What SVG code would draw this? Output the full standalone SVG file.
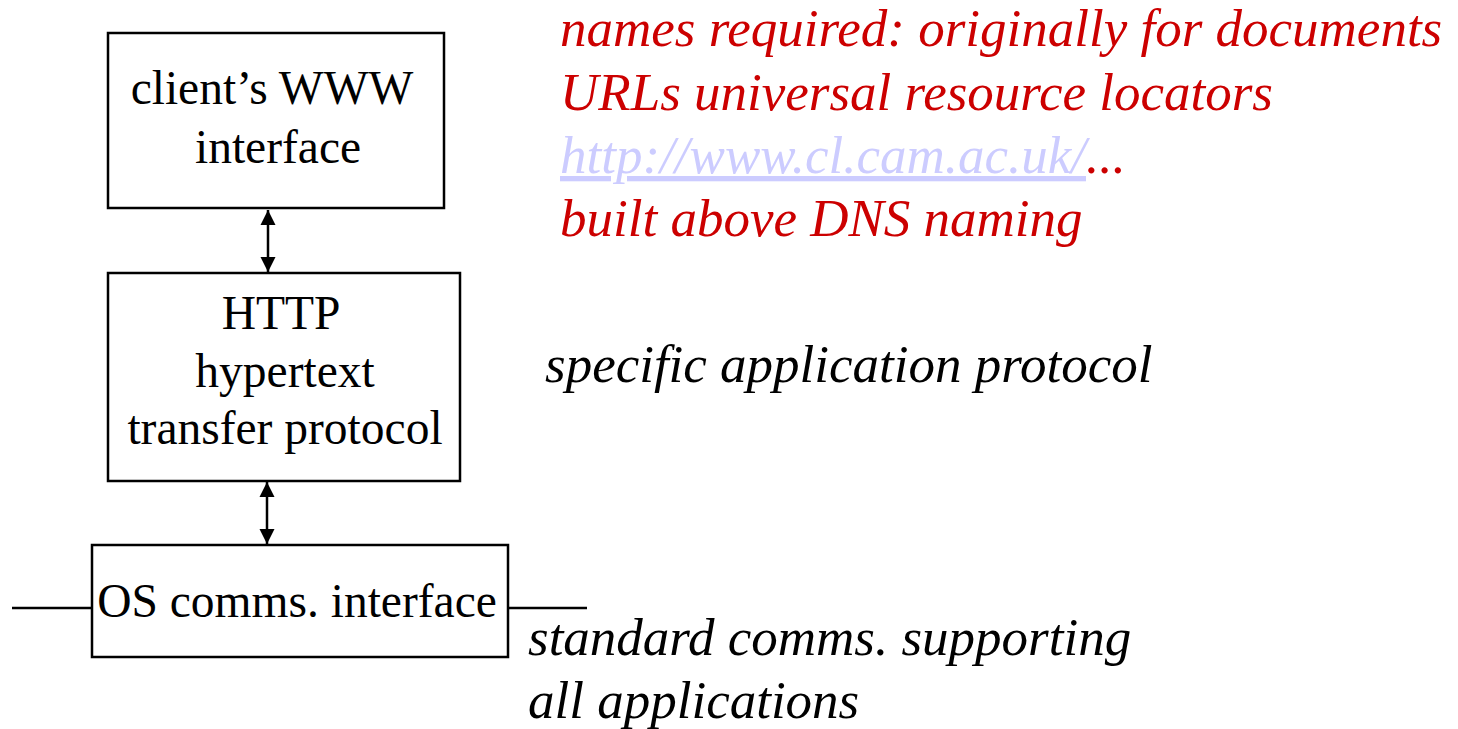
<svg xmlns="http://www.w3.org/2000/svg" width="1458" height="729" viewBox="0 0 1458 729">
<style>
.box{fill:none;stroke:#000;stroke-width:2.5}
.lbl{font-family:"Liberation Serif","Times New Roman",serif;font-size:47.5px;fill:#000;text-anchor:middle}
.it{font-family:"Liberation Serif","Times New Roman",serif;font-size:53px;font-style:italic}
.red{fill:#cc0000}
.blk{fill:#000}
.link{fill:#ccccff}
.conn{stroke:#000;stroke-width:2.5;fill:none}
</style>
<defs>
<marker id="ah" viewBox="0 0 10 10" refX="10" refY="5" markerWidth="6" markerHeight="6.4" orient="auto-start-reverse" markerUnits="strokeWidth">
<path d="M0,0 L10,5 L0,10 z" fill="#000"/>
</marker>
</defs>
<rect width="1458" height="729" fill="#fff"/>
<g id="node-client">
<rect class="box" x="108" y="33" width="336" height="175"/>
<text class="lbl" x="272" y="104">client’s WWW</text>
<text class="lbl" x="278" y="163">interface</text>
</g>
<g id="node-http">
<rect class="box" x="108" y="273" width="352" height="208"/>
<text class="lbl" x="281" y="329">HTTP</text>
<text class="lbl" x="285" y="387">hypertext</text>
<text class="lbl" x="285" y="444">transfer protocol</text>
</g>
<g id="node-os">
<rect class="box" x="92" y="545" width="416" height="112"/>
<text class="lbl" x="297" y="617">OS comms. interface</text>
</g>
<g id="connectors">
<line class="conn" x1="268" y1="210" x2="268" y2="272" marker-start="url(#ah)" marker-end="url(#ah)"/>
<line class="conn" x1="267" y1="482" x2="267" y2="544" marker-start="url(#ah)" marker-end="url(#ah)"/>
<line class="conn" x1="12" y1="608" x2="92" y2="608"/>
<line class="conn" x1="508" y1="608" x2="587" y2="608"/>
</g>
<g id="notes">
<text class="it red" x="560" y="46">names required: originally for documents</text>
<text class="it red" x="560" y="110">URLs universal resource locators</text>
<text class="it" x="560" y="173"><tspan class="link" text-decoration="underline">http://www.cl.cam.ac.uk/</tspan><tspan class="red">...</tspan></text>
<text class="it red" x="560" y="236">built above DNS naming</text>
<text class="it blk" x="545" y="382">specific application protocol</text>
<text class="it blk" x="528" y="655">standard comms. supporting</text>
<text class="it blk" x="528" y="718">all applications</text>
</g>
</svg>
